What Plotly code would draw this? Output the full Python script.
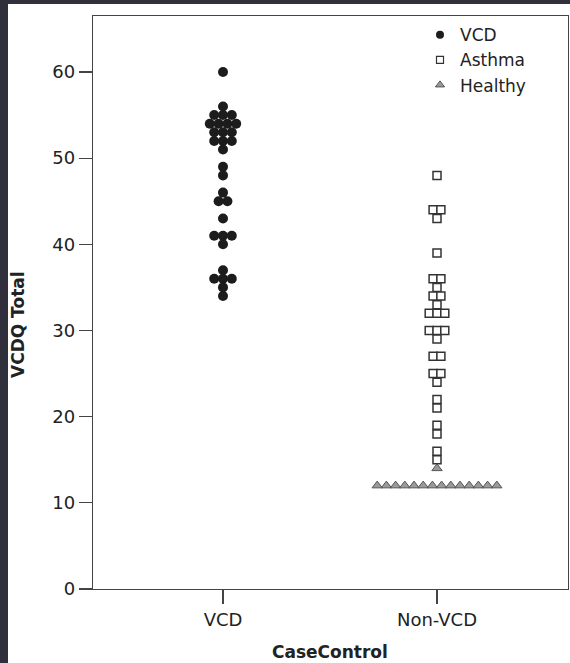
import plotly.graph_objects as go

# ---- data ----
categories = ["VCD", "Non-VCD"]
vcd_values = [60, 56, 55, 54, 53, 52, 51, 49, 48, 46, 45, 43, 41, 40, 37, 36, 35, 34]
vcd_counts = [1, 1, 3, 4, 3, 3, 1, 1, 1, 1, 2, 1, 3, 1, 1, 3, 1, 1]
asthma_values = [48, 44, 43, 39, 36, 35, 34, 33, 32, 30, 29, 27, 25, 24, 22, 21, 19, 18, 16, 15]
asthma_counts = [1, 2, 1, 1, 2, 1, 2, 1, 3, 3, 1, 2, 2, 1, 1, 1, 1, 1, 1, 1]
healthy_values = [14, 12]
healthy_counts = [1, 14]
y_tick_vals = [0, 10, 20, 30, 40, 50, 60]


def stack(cat_index, values, counts, step):
    xs, ys = [], []
    for v, n in zip(values, counts):
        for i in range(n):
            xs.append(cat_index + (i - (n - 1) / 2) * step)
            ys.append(v)
    return xs, ys


# figure placed at page offset (8, 4) so the dark page background shows as a frame
OX, OY = 8, 4
W, H = 570 - OX, 663 - OY
ML, MR, MT, MB = 93 - OX, 2, 16 - OY, 74
plot_w = W - ML - MR
plot_h = H - MT - MB
px_per_unit_x = 214.0
x0 = -(223 - 93) / px_per_unit_x
x1 = x0 + plot_w / px_per_unit_x

vx, vy = stack(0, vcd_values, vcd_counts, 8.8 / px_per_unit_x)
ax_, ay_ = stack(1, asthma_values, asthma_counts, 7.8 / px_per_unit_x)
hx, hy = stack(1, healthy_values, healthy_counts, 9.2 / px_per_unit_x)

FONT = "DejaVu Sans"
fig = go.Figure()
fig.add_trace(go.Scatter(x=vx, y=vy, mode="markers", showlegend=False, hoverinfo="skip",
                         marker=dict(symbol="circle", size=10, color="#1c1c1c",
                                     line=dict(width=0))))
fig.add_trace(go.Scatter(x=ax_, y=ay_, mode="markers", showlegend=False, hoverinfo="skip",
                         marker=dict(symbol="square", size=8, color="white",
                                     line=dict(width=1.5, color="#333333"))))
fig.add_trace(go.Scatter(x=hx, y=hy, mode="markers", showlegend=False, hoverinfo="skip",
                         marker=dict(symbol="triangle-up", size=9, color="#9a9a9a",
                                     line=dict(width=1, color="#555555"))))
# legend entries
fig.add_trace(go.Scatter(x=[None], y=[None], mode="markers", name="VCD",
                         marker=dict(symbol="circle", size=8, color="#1c1c1c")))
fig.add_trace(go.Scatter(x=[None], y=[None], mode="markers", name="Asthma",
                         marker=dict(symbol="square", size=7, color="white",
                                     line=dict(width=1.2, color="#333333"))))
fig.add_trace(go.Scatter(x=[None], y=[None], mode="markers", name="Healthy",
                         marker=dict(symbol="triangle-up", size=8, color="#9a9a9a",
                                     line=dict(width=1, color="#555555"))))

axis_line = "#444444"
fig.update_layout(
    width=W, height=H,
    margin=dict(l=ML, r=MR, t=MT, b=MB),
    paper_bgcolor="white", plot_bgcolor="white",
    font=dict(family=FONT, size=18, color="#222222"),
    showlegend=True,
    legend=dict(x=(420 - 93) / plot_w, y=0.998, xanchor="left", yanchor="top",
                bgcolor="rgba(0,0,0,0)", borderwidth=0,
                font=dict(family=FONT, size=17, color="#222222"),
                itemsizing="trace", tracegroupgap=0),
    xaxis=dict(range=[x0, x1], tickmode="array", tickvals=[0, 1], ticktext=categories,
               showgrid=False, zeroline=False, showline=True, linecolor=axis_line,
               linewidth=1.2, mirror=True, ticks="outside", ticklen=14,
               tickcolor=axis_line, tickwidth=1.2,
               tickfont=dict(family=FONT, size=18, color="#222222")),
    yaxis=dict(range=[0, plot_h / 8.617], tickmode="array", tickvals=y_tick_vals,
               showgrid=False, zeroline=False, showline=True, linecolor=axis_line,
               linewidth=1.2, mirror=True, ticks="outside", ticklen=13,
               tickcolor=axis_line, tickwidth=1.2,
               tickfont=dict(family=FONT, size=18, color="#222222")),
)

# page pixel -> paper helpers (plot area: page x 93..568, page y 16..589)
def px_x(page_x):
    return (page_x - 93) / plot_w


def px_y(page_y):
    return (589 - page_y) / plot_h


fig.add_annotation(text="<b>VCDQ Total</b>", xref="paper", yref="paper",
                   x=px_x(18), y=px_y(325),
                   textangle=-90, showarrow=False, xanchor="center", yanchor="middle",
                   font=dict(family=FONT, size=17, color="#222222"))
fig.add_annotation(text="<b>CaseControl</b>", xref="paper", yref="paper",
                   x=px_x(330), y=px_y(652),
                   showarrow=False, xanchor="center", yanchor="middle",
                   font=dict(family=FONT, size=17, color="#222222"))

fig.write_html(
    "out.html",
    config={"displayModeBar": False, "staticPlot": True},
    post_script=(
        "document.body.style.margin='%dpx 0 0 %dpx';"
        "document.body.style.background='#30303c';"
        "document.documentElement.style.background='#30303c';"
        "document.body.style.overflow='hidden';" % (OY, OX)
    ),
)
